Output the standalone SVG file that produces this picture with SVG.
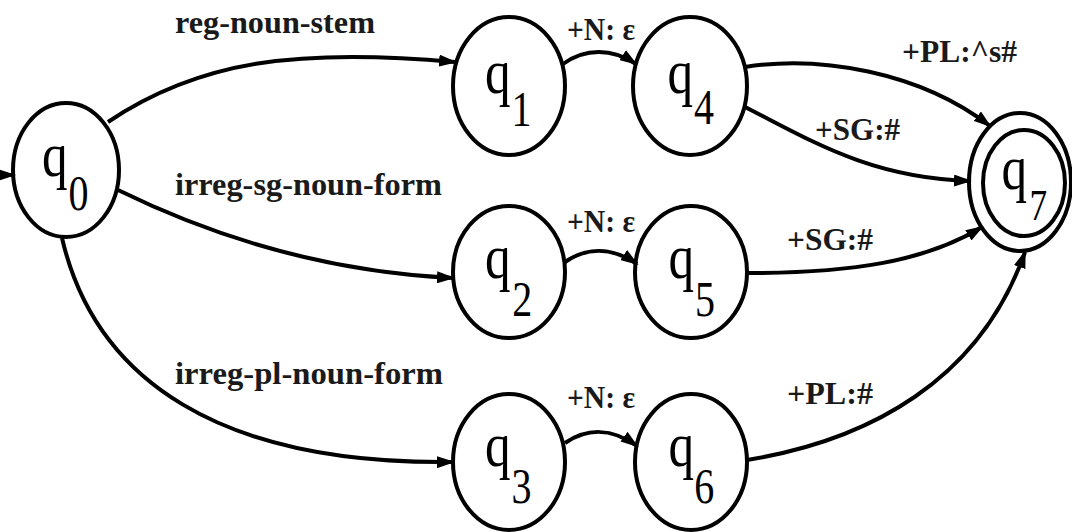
<svg xmlns="http://www.w3.org/2000/svg" width="1072" height="532" viewBox="0 0 1072 532">
<style>
.st{fill:none;stroke:#000;stroke-width:4}
.e{fill:none;stroke:#000;stroke-width:4;marker-end:url(#ah)}
.q{font-family:"Liberation Serif",serif;font-size:64px;fill:#000}
.sub{font-size:50px}
.l{font-family:"Liberation Serif",serif;font-weight:bold;font-size:31px;fill:#1a1a1a}
</style>
<defs>
<marker id="ah" markerUnits="userSpaceOnUse" markerWidth="18" markerHeight="12" refX="16" refY="6" orient="auto">
<path d="M0,0 L18,6 L0,12 z" fill="#000"/>
</marker>
</defs>
<rect width="1072" height="532" fill="#fff"/>
<g id="connectors">
<path class="e" d="M0,175 L14,175"/>
<path class="e" d="M108,122 C200,60 300,48 455,62"/>
<path class="e" d="M118,190 C220,240 330,272 453,278"/>
<path class="e" d="M62,238 C95,380 220,465 453,462"/>
<path class="e" d="M563,64 C585,48 612,48 636,64"/>
<path class="e" d="M565,262 C587,247 612,247 637,264"/>
<path class="e" d="M565,443 C587,428 612,428 637,446"/>
<path class="e" d="M745,67 C820,55 920,72 990,126"/>
<path class="e" d="M745,107 C810,140 870,178 970,181"/>
<path class="e" d="M747,273 C850,273 925,262 982,227"/>
<path class="e" d="M747,460 C870,440 980,380 1025,252"/>
</g>
<g id="labels">
<text class="l" x="175" y="33" textLength="200" lengthAdjust="spacingAndGlyphs">reg-noun-stem</text>
<text class="l" x="175" y="195" textLength="267" lengthAdjust="spacingAndGlyphs">irreg-sg-noun-form</text>
<text class="l" x="175" y="384" textLength="268" lengthAdjust="spacingAndGlyphs">irreg-pl-noun-form</text>
<text class="l" x="567" y="40" textLength="68" lengthAdjust="spacingAndGlyphs">+N: ε</text>
<text class="l" x="567" y="232" textLength="68" lengthAdjust="spacingAndGlyphs">+N: ε</text>
<text class="l" x="567" y="408" textLength="68" lengthAdjust="spacingAndGlyphs">+N: ε</text>
<text class="l" x="902" y="62" textLength="115" lengthAdjust="spacingAndGlyphs">+PL:^s#</text>
<text class="l" x="815" y="140" textLength="85" lengthAdjust="spacingAndGlyphs">+SG:#</text>
<text class="l" x="787" y="250" textLength="86" lengthAdjust="spacingAndGlyphs">+SG:#</text>
<text class="l" x="787" y="404" textLength="86" lengthAdjust="spacingAndGlyphs">+PL:#</text>
</g>
<g id="q0">
<ellipse class="st" cx="66" cy="170" rx="53" ry="67"/>
<text class="q" transform="translate(66,0) scale(0.8,1)" x="-30" y="176">q<tspan class="sub" x="3" y="210">0</tspan></text>
</g>
<g id="q1">
<ellipse class="st" cx="509" cy="86" rx="56" ry="69"/>
<text class="q" transform="translate(509,0) scale(0.8,1)" x="-30" y="93">q<tspan class="sub" x="3" y="126">1</tspan></text>
</g>
<g id="q4">
<ellipse class="st" cx="690" cy="86" rx="57" ry="69"/>
<text class="q" transform="translate(690,0) scale(0.8,1)" x="-28" y="93">q<tspan class="sub" x="5" y="124">4</tspan></text>
</g>
<g id="q2">
<ellipse class="st" cx="509" cy="272" rx="56" ry="66"/>
<text class="q" transform="translate(509,0) scale(0.8,1)" x="-30" y="278">q<tspan class="sub" x="4" y="316">2</tspan></text>
</g>
<g id="q5">
<ellipse class="st" cx="691" cy="272" rx="56" ry="66"/>
<text class="q" transform="translate(691,0) scale(0.8,1)" x="-28" y="278">q<tspan class="sub" x="5" y="316">5</tspan></text>
</g>
<g id="q3">
<ellipse class="st" cx="509" cy="462" rx="56" ry="68"/>
<text class="q" transform="translate(509,0) scale(0.8,1)" x="-30" y="466">q<tspan class="sub" x="3" y="503">3</tspan></text>
</g>
<g id="q6">
<ellipse class="st" cx="691" cy="462" rx="56" ry="68"/>
<text class="q" transform="translate(691,0) scale(0.8,1)" x="-28" y="466">q<tspan class="sub" x="4" y="503">6</tspan></text>
</g>
<g id="q7">
<ellipse class="st" cx="1020" cy="182" rx="51" ry="69"/>
<ellipse class="st" cx="1024" cy="183" rx="41" ry="53"/>
<text class="q" transform="translate(1020,0) scale(0.8,1)" x="-23" y="189" font-size="60">q<tspan x="12" y="220" font-size="44">7</tspan></text>
</g>
</svg>
